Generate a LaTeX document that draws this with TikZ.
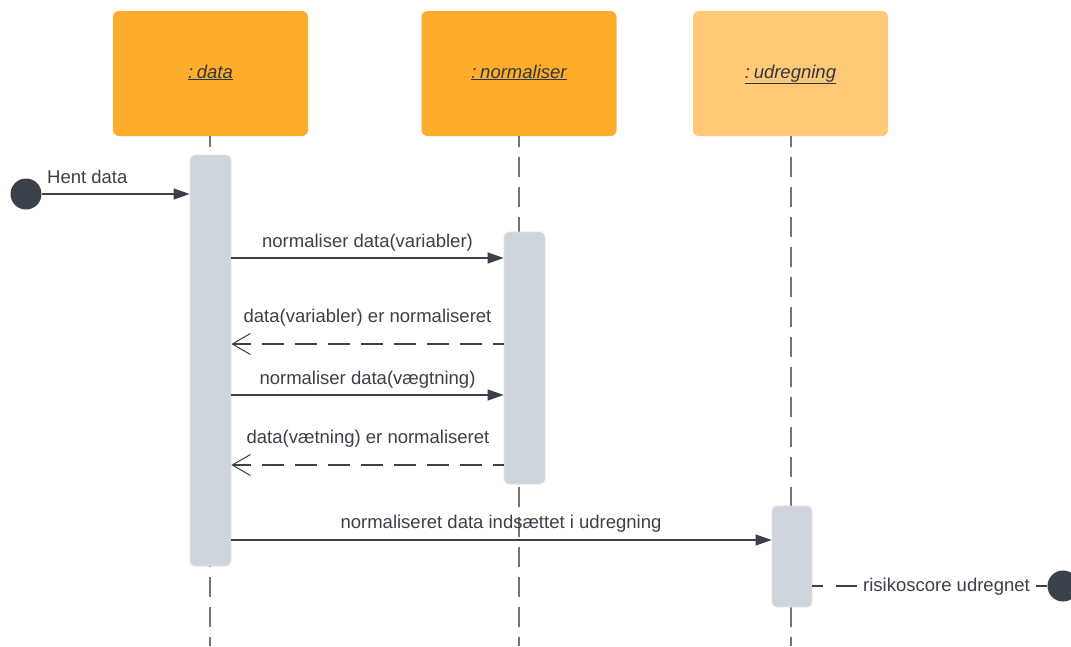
\documentclass[tikz,border=0pt]{standalone}
\usepackage{fontspec}
\setmainfont{Liberation Sans}
\usetikzlibrary{arrows.meta}

\definecolor{objorange}{HTML}{FDAD2A}
\definecolor{objlight}{HTML}{FFC978}
\definecolor{barfill}{HTML}{CED5DC}
\definecolor{barline}{HTML}{E1E5E9}
\definecolor{ink}{HTML}{3A414A}
\definecolor{lifegray}{HTML}{6E7580}

\tikzset{
  objbox/.style={rounded corners=6pt, minimum width=195pt, minimum height=125pt,
    inner sep=0pt, text=ink},
  actbar/.style={fill=barfill, draw=barline, line width=0.8pt, rounded corners=5pt,
    minimum width=41pt, inner sep=0pt},
  lifeline/.style={draw=lifegray, line width=1.2pt, dash pattern=on 20pt off 10pt, dash phase=9pt},
  endpoint/.style={circle, fill=ink, minimum size=31pt, inner sep=0pt},
  callmsg/.style={draw=ink, line width=1.3pt, -{Triangle[length=16pt,width=11pt]}},
  replymsg/.style={draw=ink, line width=1.1pt, dash pattern=on 22pt off 11pt, dash phase=11pt,
    -{Straight Barb[length=18pt,width=21pt,line width=1pt]}},
  msglabel/.style={font=\fontsize{18.5pt}{22pt}\selectfont, text=ink, anchor=base, inner sep=0pt},
  objlabel/.style={font=\fontsize{18.5pt}{22pt}\selectfont\itshape, text=ink!85!black}
}

\begin{document}
\begin{tikzpicture}[x=1pt, y=-1pt]
  \useasboundingbox (0,0) rectangle (1071,646);
  \fill[white] (0,0) rectangle (1071,646);

  % participant heads
  \node[objbox, fill=objorange] (hData) at (210.5,73.5) {};
  \node[objbox, fill=objorange] (hNorm) at (519,73.5) {};
  \node[objbox, fill=objlight]  (hUdr)  at (790.5,73.5) {};
  \node[objlabel, anchor=base] at (210.5,78) {\underline{:\kern0.2em data}};
  \node[objlabel, anchor=base] at (519,78) {\underline{:\kern0.2em normaliser}};
  \node[objlabel, anchor=base] at (790.5,78) {\underline{:\kern0.2em udregning}};

  % lifelines
  \coordinate (eData) at (210,646);
  \coordinate (eNorm) at (519,646);
  \coordinate (eUdr)  at (791,646);
  \draw[lifeline] (hData.south -| eData) -- (eData);
  \draw[lifeline] (hNorm.south -| eNorm) -- (eNorm);
  \draw[lifeline] (hUdr.south -| eUdr) -- (eUdr);

  % activation bars
  \node[actbar, minimum height=411pt] (aData) at (210.5,360.5) {};
  \node[actbar, minimum height=252pt] (aNorm) at (524.5,358) {};
  \node[actbar, minimum width=40pt, minimum height=101pt] (aUdr) at (792,556.5) {};

  % found message
  \node[endpoint] (start) at (26,194) {};
  \draw[callmsg] (start.east) -- (aData.west |- start);
  \node[msglabel, anchor=base west] at (47,183.3) {Hent data};

  % messages between participants
  \coordinate (m1) at (231,258);
  \draw[callmsg] (aData.east |- m1) -- (aNorm.west |- m1);
  \node[msglabel] at (367.5,247) {normaliser data(variabler)};

  \coordinate (m2) at (504,344);
  \draw[replymsg] (aNorm.west |- m2) -- (aData.east |- m2);
  \node[msglabel] at (367.5,322.7) {data(variabler) er normaliseret};

  \coordinate (m3) at (231,395);
  \draw[callmsg] (aData.east |- m3) -- (aNorm.west |- m3);
  \node[msglabel] at (367.5,384) {normaliser data(vægtning)};

  \coordinate (m4) at (504,465);
  \draw[replymsg] (aNorm.west |- m4) -- (aData.east |- m4);
  \node[msglabel] at (368,443.3) {data(vætning) er normaliseret};

  \coordinate (m5) at (231,540);
  \draw[callmsg] (aData.east |- m5) -- (aUdr.west |- m5);
  \node[msglabel] at (501,528) {normaliseret data indsættet i udregning};

  % lost message
  \node[endpoint] (stop) at (1063,586) {};
  \draw[draw=ink, line width=1.1pt, dash pattern=on 11pt off 13pt on 400pt]
    (aUdr.east |- stop) -- (stop.west);
  \node[msglabel, fill=white, inner xsep=6pt, inner ysep=2pt] at (946.5,591) {risikoscore udregnet};
\end{tikzpicture}
\end{document}
